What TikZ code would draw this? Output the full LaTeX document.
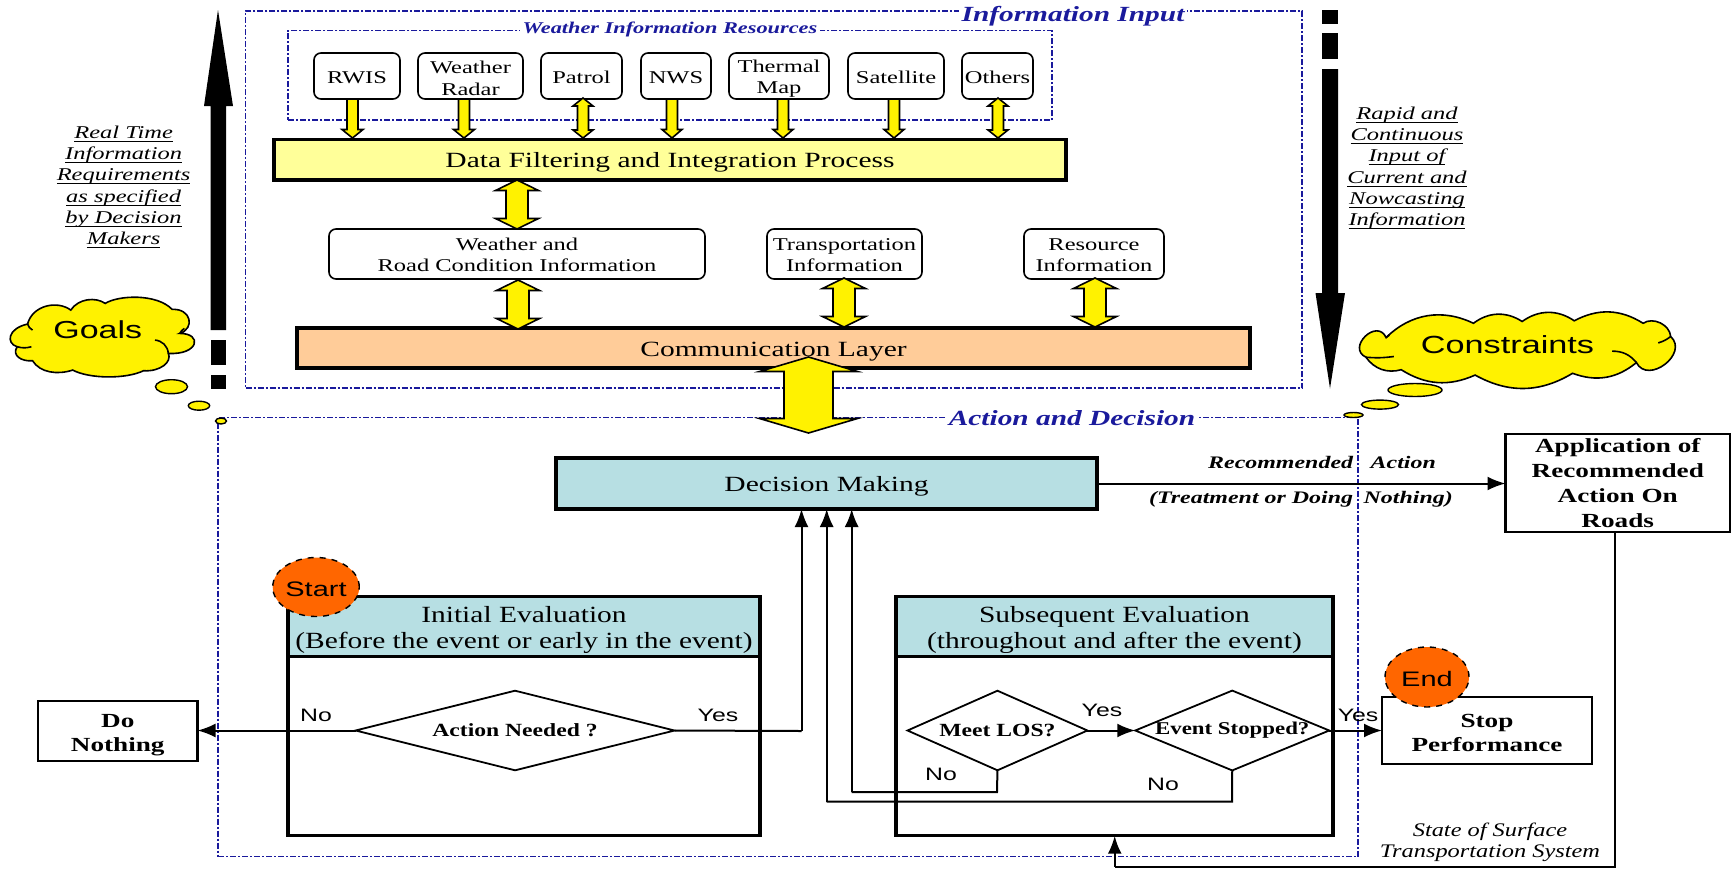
\documentclass[tikz,border=0pt]{standalone}
\usepackage{fontspec}
\usetikzlibrary{shapes.geometric,arrows.meta}
\setmainfont{Liberation Serif}
\newfontfamily\up[FakeStretch=1.36]{Liberation Serif}
\newfontfamily\lo[FakeStretch=1.2]{Liberation Serif}
\newfontfamily\ev[FakeStretch=1.27]{Liberation Serif}
\newfontfamily\sa[FakeStretch=1.38]{Liberation Sans}
\definecolor{dashblue}{HTML}{1A1A9C}
\definecolor{teal}{HTML}{B7DFE3}
\definecolor{softyellow}{HTML}{FFFF99}
\definecolor{peach}{HTML}{FFCC99}
\definecolor{startorange}{HTML}{FF6600}
\newcommand{\fs}[2]{\fontsize{#1}{#2}\selectfont}
\newcommand{\dn}[1]{\rule{0pt}{#1pt}}
\newcommand{\ul}[1]{\underline{\smash{#1}}}
\newcommand{\bx}[7][]{%
  \pgfmathsetmacro{\cxx}{(#3+#5)/2}\pgfmathsetmacro{\cyy}{(#4+#6)/2}%
  \pgfmathsetmacro{\www}{(#5-#3)*0.5}\pgfmathsetmacro{\hhh}{(#6-#4)*0.5}%
  \node[#1,minimum width=\www pt,minimum height=\hhh pt] (#2) at (\cxx,\cyy) {#7};}
\newcommand{\dnarrow}[6]{% cx y1 y2 halfshaft halfhead headlen
  \draw[blockarrow] ({#1-#4},#2) -- ({#1+#4},#2) -- ({#1+#4},{#3-#6}) -- ({#1+#5},{#3-#6}) -- (#1,#3) -- ({#1-#5},{#3-#6}) -- ({#1-#4},{#3-#6}) -- cycle;}
\newcommand{\dblarrow}[6]{%
  \draw[blockarrow] (#1,#2) -- ({#1+#5},{#2+#6}) -- ({#1+#4},{#2+#6}) -- ({#1+#4},{#3-#6}) -- ({#1+#5},{#3-#6}) -- (#1,#3) -- ({#1-#5},{#3-#6}) -- ({#1-#4},{#3-#6}) -- ({#1-#4},{#2+#6}) -- ({#1-#5},{#2+#6}) -- cycle;}
\tikzset{
  px/.style={x=0.5pt,y=-0.5pt},
  dbox/.style={draw=dashblue,line width=0.6pt,dash pattern=on 3pt off 1pt on 1pt off 1pt},
  dlabel/.style={fill=white,inner sep=1.5pt,text=dashblue},
  srcbox/.style={draw,line width=0.8pt,rounded corners=3.5pt,inner sep=0pt,outer sep=0pt,align=center,font=\up\fs{9}{10.6}},
  procbox/.style={draw,line width=1.6pt,inner sep=0pt,outer sep=0pt,align=center},
  evalhead/.style={draw,line width=1.6pt,fill=teal,inner sep=0pt,outer sep=0pt,align=center,font=\ev\fs{11.6}{13.2}},
  plainbox/.style={draw,inner sep=0pt,outer sep=0pt,align=center},
  blockarrow/.style={draw,line width=0.8pt,fill=yellow,line join=miter},
  dec/.style={diamond,draw,line width=0.9pt,inner sep=0pt,outer sep=0pt,align=center},
  flow/.style={line width=1pt,-{Latex[length=9pt,width=7pt]}},
  yn/.style={font=\sa\fs{9}{10},inner sep=0pt},
  note/.style={inner sep=0pt,align=center,font=\up\itshape\fs{9}{10.6}},
  startmark/.style={ellipse,draw,fill=startorange,line width=0.7pt,dashed,inner sep=0pt,outer sep=0pt,font=\sa\fs{10.5}{12}},
  puff/.style={ellipse,draw,fill=yellow,line width=0.7pt,inner sep=0pt,outer sep=0pt},
  cloudline/.style={draw,fill=yellow,line width=0.8pt,line join=miter},
  cloudfold/.style={draw,line width=0.8pt},
  cloudtext/.style={inner sep=0pt,font=\sa\fs{12.3}{13}},
}
\begin{document}
\begin{tikzpicture}[px]
\useasboundingbox (0,0) rectangle (1731,874);
\fill[white] (0,0) rectangle (1731,874);
% dash-dot frames
\bx[dbox]{inputframe}{245.5}{11}{1302}{388}{}
\bx[dbox]{weatherframe}{288}{30.7}{1052}{120}{}
\bx[dbox]{actionframe}{218}{417.7}{1358}{856.7}{}
\node[dlabel,font=\up\bfseries\itshape\fs{10.8}{12}] (inputlabel) at (1073,16) {Information Input};
\node[dlabel,font=\up\bfseries\itshape\fs{8.2}{9}] (weatherlabel) at (670,29.5) {Weather Information Resources};
\node[dlabel,font=\up\bfseries\itshape\fs{10.8}{12}] (actionlabel) at (1072,418) {Action and Decision};
% sources
\bx[srcbox]{rwis}{314}{53}{400}{99}{\dn{8}RWIS}
\bx[srcbox]{radar}{418}{53}{523}{99}{\dn{8.6}Weather\\Radar}
\bx[srcbox]{patrol}{541}{53}{622}{99}{\dn{8}Patrol}
\bx[srcbox]{nws}{641}{53}{711}{99}{\dn{8}NWS}
\bx[srcbox]{thermal}{729}{53}{829}{99}{\dn{8.6}Thermal\\Map}
\bx[srcbox]{satellite}{848}{53}{944}{99}{\dn{8}Satellite}
\bx[srcbox]{others}{962}{53}{1033}{99}{\dn{8}Others}
% layers
\bx[procbox,fill=softyellow,font=\up\fs{10.85}{12}]{filter}{274}{139.5}{1066}{180}{\dn{9.8}Data Filtering and Integration Process}
\bx[srcbox]{road}{329}{229}{705}{279}{\dn{7}Weather and\\Road Condition Information}
\bx[srcbox]{transp}{767}{229}{922}{279}{\dn{7}Transportation\\Information}
\bx[srcbox]{resource}{1024}{229}{1164}{279}{\dn{7}Resource\\Information}
\bx[procbox,fill=peach,font=\up\fs{10.85}{12}]{comm}{297}{328}{1250}{368}{\dn{10.8}Communication Layer}
% block arrows
\dnarrow{352.5}{99}{138}{5.5}{10.5}{8.5}
\dnarrow{464}{99}{138}{5.5}{10.5}{8.5}
\dblarrow{583}{98}{138}{5.5}{10}{8}
\dnarrow{672}{99}{138}{5.5}{10}{8.5}
\dnarrow{783}{99}{138}{5.5}{10}{8.5}
\dnarrow{894}{99}{138}{5.5}{10}{8.5}
\dblarrow{998}{98}{138}{5.5}{10}{8}
\dblarrow{517}{180}{229}{11}{21.5}{10.5}
\dblarrow{518}{280}{329}{11}{21.5}{10.5}
\dblarrow{844}{278}{327}{11}{21.5}{10.5}
\dblarrow{1095}{278}{327}{11}{21.5}{10.5}
\dblarrow{808.5}{357}{433}{24.5}{49}{14.5}
% big black arrows
\fill (218,10) -- (233,106) -- (226,106) -- (226,330) -- (210.5,330) -- (210.5,106) -- (204,106) -- cycle;
\fill (210.5,340) rectangle (226,365);
\fill (210.5,375) rectangle (226,389);
\fill (1330,388.6) -- (1345,293) -- (1338,293) -- (1338,69) -- (1322,69) -- (1322,293) -- (1315.5,293) -- cycle;
\fill (1322,33) rectangle (1338,59);
\fill (1322,10) rectangle (1338,24);
% side notes
\node[note] (leftnote) at (123.6,193.5) {\ul{Real Time}\\\ul{Information}\\\ul{Requirements}\\\ul{as specified}\\\ul{by Decision}\\\ul{Makers}};
\node[note] (rightnote) at (1407,174.5) {\ul{Rapid and}\\\ul{Continuous}\\\ul{Input of}\\\ul{Current and}\\\ul{Nowcasting}\\\ul{Information}};
% clouds
\begin{scope}[x=0.1913pt,y=-0.1667pt]
\draw[cloudline] (72,972) .. controls (85,915) and (150,900) .. (185,930)
  .. controls (205,895) and (250,890) .. (275,910)
  .. controls (310,885) and (410,880) .. (450,928)
  .. controls (500,925) and (510,985) .. (470,1000)
  .. controls (530,1000) and (520,1065) .. (440,1060)
  .. controls (450,1085) and (420,1115) .. (375,1112)
  .. controls (330,1137) and (235,1137) .. (190,1110)
  .. controls (150,1125) and (105,1118) .. (85,1082)
  .. controls (55,1085) and (30,1065) .. (45,1040)
  .. controls (15,1030) and (20,985) .. (72,972) -- cycle;
\draw[cloudfold] (72,972) to[bend right=20] (85,990);
\draw[cloudfold] (45,1040) to[bend right=15] (82,1040);
\draw[cloudfold] (405,1020) to[bend left=40] (440,1060);
\draw[cloudfold] (470,1000) to[bend left=15] (482,985);
\end{scope}
\node[cloudtext] (goals) at (97.7,330) {Goals};
\node[puff,minimum width=16pt,minimum height=7pt] (g1) at (171.5,386.7) {};
\node[puff,minimum width=10.7pt,minimum height=4.5pt] (g2) at (199,405.7) {};
\node[puff,minimum width=5.5pt,minimum height=3pt] (g3) at (221,421) {};
\begin{scope}[shift={(1250,0)},x=0.168pt,y=-0.1786pt]
\draw[cloudline] (405,945) to[bend left=35] (665,905) to[bend left=35] (810,900) to[bend left=35] (965,898)
  to[bend left=30] (1170,905) to[bend left=60] (1252,942) to[bend left=100,looseness=1.5] (1150,1015)
  to[bend left=30] (960,1045) to[bend left=30] (670,1050) to[bend left=28] (450,1035)
  to[bend left=35] (345,1000) to[bend left=110,looseness=2] (405,945) -- cycle;
\draw[cloudfold] (345,1000) to[bend right=6] (428,998);
\draw[cloudfold] (1078,983) to[bend left=25] (1150,1015);
\draw[cloudfold] (1215,960) to[bend right=10] (1252,942);
\draw[cloudfold] (405,945) to[bend right=15] (415,938);
\end{scope}
\node[cloudtext,font=\sa\fs{12.4}{13}] (constraints) at (1507.5,344.5) {Constraints};
\node[puff,minimum width=27pt,minimum height=6.5pt] (c1) at (1415,390) {};
\node[puff,minimum width=18.5pt,minimum height=4.5pt] (c2) at (1380,404.6) {};
\node[puff,minimum width=9.5pt,minimum height=2.5pt] (c3) at (1353.5,415) {};
% decision section
\bx[procbox,fill=teal,font=\up\fs{10.85}{12}]{decision}{556}{458}{1097}{509}{\dn{10.8}Decision Making}
\bx[plainbox,line width=1.3pt,font=\up\bfseries\fs{10}{12.5}]{application}{1505.5}{434}{1730}{532}{\dn{7.4}Application of\\Recommended\\Action On\\Roads}
\node[inner sep=0pt,font=\up\itshape\bfseries\fs{8.8}{9}] (rec) at (1322,462) {Recommended\hspace{1em}Action};
\node[inner sep=0pt,font=\up\itshape\bfseries\fs{8.8}{9}] (treat) at (1301,499) {(Treatment or Doing\hspace{0.6em}Nothing)};
% initial evaluation
\bx[plainbox,line width=1.6pt]{initbody}{288}{656.7}{760}{835.7}{}
\bx[evalhead]{inithead}{288}{596.7}{760}{656.7}{\dn{11.4}Initial Evaluation\\(Before the event or early in the event)}
\node[startmark,minimum width=42pt,minimum height=29.5pt] (start) at (316,587) {\dn{9.8}Start};
\bx[dec,shape aspect=4,font=\ev\bfseries\fs{9.3}{10}]{needed}{355.6}{690.7}{674.5}{770.3}{Action Needed ?}
\bx[plainbox,line width=1.2pt,font=\up\bfseries\fs{10}{11.8}]{donothing}{38}{700.7}{197.5}{760.7}{\dn{11}Do\\Nothing}
% subsequent evaluation
\bx[plainbox,line width=1.6pt]{subbody}{896}{656.7}{1333}{835.7}{}
\bx[evalhead]{subhead}{896}{596.7}{1333}{656.7}{\dn{11.4}Subsequent Evaluation\\(throughout and after the event)}
\bx[dec,shape aspect=2.26,font=\ev\bfseries\fs{9.3}{10}]{los}{907.5}{690.7}{1087.4}{770.3}{Meet LOS?}
\bx[dec,shape aspect=2.43,font=\ev\bfseries\fs{9}{10}]{stopped}{1135.5}{690.7}{1329}{770.3}{Event Stopped?}
\bx[plainbox,line width=1.1pt,font=\up\bfseries\fs{10}{11.8}]{stop}{1382}{696.7}{1592}{764}{\dn{9.4}Stop\\Performance}
\node[startmark,minimum width=42pt,minimum height=30pt] (end) at (1427,677) {\dn{9.8}End};
% connectors
\coordinate (appout) at (1615,532);
\coordinate (statecorner) at (1615,867);
\coordinate (subin) at (1114.7,867);
\coordinate (subarrow) at (1114.7,835.7);
\coordinate (yescorner) at (801.5,731);
\coordinate (yesin) at (801.5,509);
\coordinate (losa) at (997,792);
\coordinate (losb) at (851.7,792);
\coordinate (losc) at (851.7,509);
\coordinate (stoppeda) at (1232,801.7);
\coordinate (stoppedb) at (826.7,801.7);
\coordinate (stoppedc) at (826.7,509);
\draw[flow] (decision.east) -- (decision.east -| application.west);
\draw[flow] (needed.west) -- (needed.west -| donothing.east);
\draw[line width=1pt] (needed.east) -- (yescorner);
\draw[flow] (yescorner) -- (yesin);
\draw[flow] (los.east) -- (stopped.west);
\draw[flow] (stopped.east) -- (stopped.east -| stop.west);
\draw[line width=1pt] (los.south) -- (losa) -- (losb);
\draw[flow] (losb) -- (losc);
\draw[line width=1pt] (stopped.south) -- (stoppeda) -- (stoppedb);
\draw[flow] (stoppedb) -- (stoppedc);
\draw[line width=1.2pt] (appout) -- (statecorner) -- (subin);
\draw[flow,line width=1.2pt] (subin) -- (subarrow);
% yes/no labels
\node[yn] (n1) at (316,715) {No};
\node[yn] (y1) at (718,715) {Yes};
\node[yn] (y2) at (1102,710.7) {Yes};
\node[yn] (n2) at (941,774) {No};
\node[yn] (n3) at (1163,784) {No};
\node[yn] (y3) at (1358,715) {Yes};
\node[inner sep=0pt,align=center,font=\ev\itshape\fs{9.6}{10.6}] (state) at (1490,842.5) {State of Surface\\Transportation System};
\end{tikzpicture}
\end{document}
